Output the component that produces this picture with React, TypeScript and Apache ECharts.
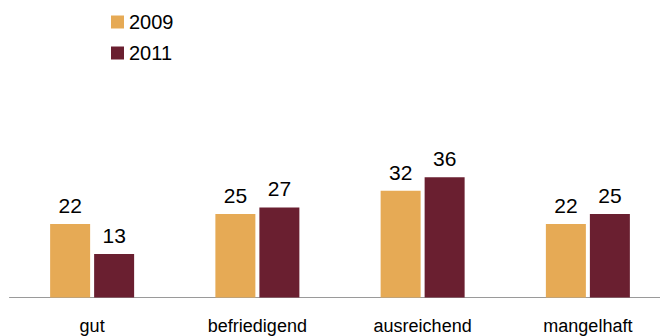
import React, { useEffect, useRef } from "react";
import * as echarts from "echarts";

const categories = ["gut", "befriedigend", "ausreichend", "mangelhaft"];
const seriesNames = ["2009", "2011"];
const values2009 = [22, 25, 32, 22];
const values2011 = [13, 27, 36, 25];

const FONT = "'Liberation Sans', Arial, sans-serif";

export default function App() {
  const ref = useRef<HTMLDivElement>(null);
  useEffect(() => {
    if (!ref.current) return;
    const chart = echarts.init(ref.current, undefined, { renderer: "svg" });
    const label = {
      show: true,
      position: "top",
      distance: 8,
      color: "#000",
      fontSize: 21,
      fontFamily: FONT,
    };
    chart.setOption({
      animation: false,
      textStyle: { fontFamily: FONT },
      legend: {
        orient: "vertical",
        left: 111,
        top: 12,
        padding: 0,
        itemWidth: 13,
        itemHeight: 13,
        itemGap: 11,
        icon: "rect",
        textStyle: { fontSize: 20, color: "#000", fontFamily: FONT },
        data: seriesNames,
      },
      grid: {
        left: 9.5,
        width: 661,
        top: 164,
        bottom: 38.5,
        containLabel: false,
        outerBoundsMode: "none",
      },
      xAxis: {
        type: "category",
        data: categories,
        axisLine: { lineStyle: { color: "#9a9a9a", width: 1 } },
        axisTick: { show: false },
        axisLabel: { color: "#000", fontSize: 18, margin: 19, fontFamily: FONT },
      },
      yAxis: {
        type: "value",
        min: 0,
        max: 40,
        show: false,
        splitLine: { show: false },
      },
      series: [
        {
          name: seriesNames[0],
          type: "bar",
          data: values2009,
          barWidth: 40,
          barGap: "10%",
          itemStyle: { color: "#E6AA55" },
          label,
        },
        {
          name: seriesNames[1],
          type: "bar",
          data: values2011,
          barWidth: 40,
          barGap: "10%",
          itemStyle: { color: "#6A1F30" },
          label,
        },
      ],
    });
    return () => chart.dispose();
  }, []);
  return (
    <div
      ref={ref}
      style={{ position: "absolute", left: 0, top: 0, width: 660, height: 336 }}
    />
  );
}
